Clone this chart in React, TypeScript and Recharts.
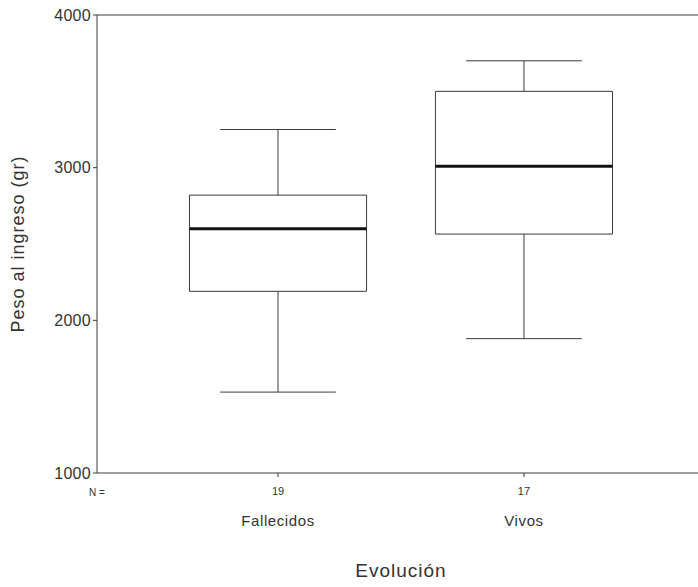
import { ComposedChart, XAxis, YAxis, ReferenceArea, ReferenceLine, Scatter } from 'recharts';

// boxplot stats (gr)
const groups = ['Fallecidos', 'Vivos'];
const counts = [19, 17];
const whiskerLow = [1530, 1880];
const q1 = [2190, 2565];
const median = [2600, 3010];
const q3 = [2820, 3500];
const whiskerHigh = [3250, 3700];
const yTicks = [1000, 2000, 3000, 4000];

const positions = groups.map((_, i) => i + 1);
const medianPoints = positions.map((p, i) => ({ x: p, y: median[i] }));
const BOX_HALF = 0.36;
const CAP_HALF = 0.235;
const FONT = 'Liberation Sans, Arial, sans-serif';
const INK = '#3a3a3a';

const XTick = (props: any) => {
  const { x, y, payload } = props;
  const i = positions.indexOf(payload.value);
  if (i < 0) return null;
  return (
    <g>
      <text x={x} y={y + 16} textAnchor="middle" fontFamily={FONT} fontSize={11} fill="#333">
        {counts[i]}
      </text>
      <text x={x} y={y + 47} textAnchor="middle" fontFamily={FONT} fontSize={15} letterSpacing={0.6} fill="#333">
        {groups[i]}
      </text>
    </g>
  );
};

const XLabel = (props: any) => {
  const { viewBox } = props;
  return (
    <g>
      <text x={viewBox.x} y={viewBox.y + 23} textAnchor="middle" fontFamily={FONT} fontSize={10} fill="#333">
        N =
      </text>
      <text
        x={viewBox.x + viewBox.width / 2}
        y={viewBox.y + 104}
        textAnchor="middle"
        fontFamily={FONT}
        fontSize={19}
        letterSpacing={1}
        fill="#333"
      >
        Evolución
      </text>
    </g>
  );
};

const YLabel = (props: any) => {
  const { viewBox } = props;
  const cx = 18;
  const cy = viewBox.y + viewBox.height / 2;
  return (
    <text
      x={cx}
      y={cy}
      transform={`rotate(-90 ${cx} ${cy})`}
      textAnchor="middle"
      dominantBaseline="central"
      fontFamily={FONT}
      fontSize={18}
      letterSpacing={1}
      fill="#333"
    >
      Peso al ingreso (gr)
    </text>
  );
};

export default function App() {
  return (
    <div style={{ position: 'absolute', left: 0, top: 0, width: 698, height: 587, overflow: 'hidden', background: '#fff' }}>
      <ComposedChart width={705} height={587} margin={{ top: 15, right: 0, bottom: 0, left: 0 }}>
        <XAxis
          type="number"
          dataKey="x"
          domain={[0.264, 2.736]}
          ticks={positions}
          allowDataOverflow
          height={114}
          tickSize={4}
          tick={<XTick />}
          stroke={INK}
          label={<XLabel />}
        />
        <YAxis
          type="number"
          dataKey="y"
          domain={[1000, 4000]}
          ticks={yTicks}
          allowDataOverflow
          width={97}
          tickSize={4}
          tickMargin={2}
          stroke={INK}
          tick={{ fontFamily: FONT, fontSize: 16, fill: '#333', letterSpacing: 0.3 }}
          label={<YLabel />}
        />
        <ReferenceLine y={4000} stroke={INK} />
        {positions.map((p, i) => (
          <ReferenceLine
            key={`wl${i}`}
            segment={[{ x: p, y: whiskerLow[i] }, { x: p, y: q1[i] }]}
            stroke={INK}
          />
        ))}
        {positions.map((p, i) => (
          <ReferenceLine
            key={`wh${i}`}
            segment={[{ x: p, y: q3[i] }, { x: p, y: whiskerHigh[i] }]}
            stroke={INK}
          />
        ))}
        {positions.map((p, i) => (
          <ReferenceLine
            key={`cl${i}`}
            segment={[{ x: p - CAP_HALF, y: whiskerLow[i] }, { x: p + CAP_HALF, y: whiskerLow[i] }]}
            stroke={INK}
          />
        ))}
        {positions.map((p, i) => (
          <ReferenceLine
            key={`ch${i}`}
            segment={[{ x: p - CAP_HALF, y: whiskerHigh[i] }, { x: p + CAP_HALF, y: whiskerHigh[i] }]}
            stroke={INK}
          />
        ))}
        {positions.map((p, i) => (
          <ReferenceArea
            key={`box${i}`}
            x1={p - BOX_HALF}
            x2={p + BOX_HALF}
            y1={q1[i]}
            y2={q3[i]}
            fill="#fff"
            fillOpacity={1}
            stroke={INK}
            strokeWidth={1}
          />
        ))}
        {positions.map((p, i) => (
          <ReferenceLine
            key={`med${i}`}
            segment={[{ x: p - BOX_HALF, y: median[i] }, { x: p + BOX_HALF, y: median[i] }]}
            stroke="#111"
            strokeWidth={3}
          />
        ))}
        {/* medians as data so the axes have a series to scale against */}
        <Scatter data={medianPoints} dataKey="y" fill="none" shape={() => null} isAnimationActive={false} />
      </ComposedChart>
    </div>
  );
}
